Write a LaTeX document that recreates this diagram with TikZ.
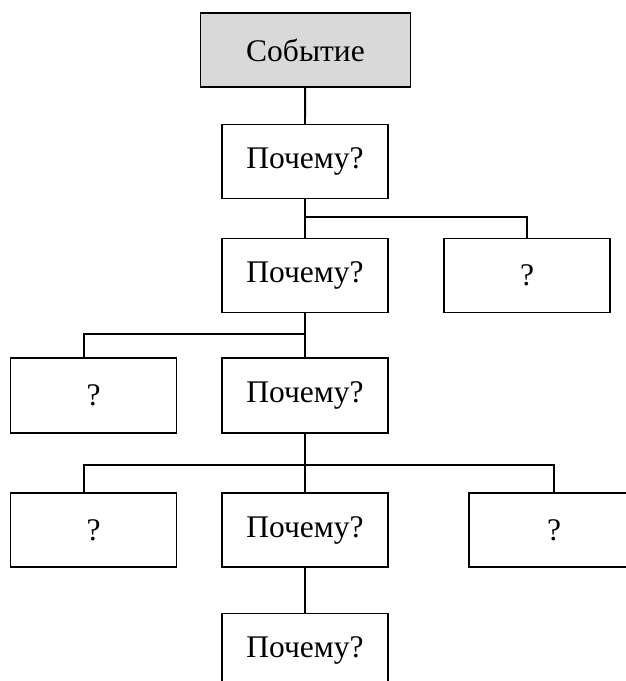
\documentclass[tikz,border=0pt]{standalone}
\usepackage{fontspec}
\setmainfont{Liberation Serif}
\definecolor{evgray}{HTML}{D9D9D9}
\begin{document}
\begin{tikzpicture}[x=1pt,y=1pt,
  box/.style={draw=black, line width=1.6pt, fill=white, minimum width=166pt, minimum height=74pt, inner sep=0pt, font=\fontsize{31.5}{36}\selectfont},
  link/.style={line width=1.6pt}]
\useasboundingbox (0,0) rectangle (625,-681);
\coordinate (b1) at (305,-217);
\coordinate (b2) at (305,-334);
\coordinate (b3) at (305,-465);
\coordinate (q2top) at (84,-358);
\coordinate (q3top) at (84,-493);
\draw[link] (305,-87) -- (305,-125);
\node[box, fill=evgray, minimum width=210pt] (E) at (305.5,-50) {Событие};
\node[box] (P1) at (305,-161.5) {Почему?};
\node[box] (P2) at (305,-275.5) {Почему?};
\node[box] (Q1) at (527,-275.5) {?};
\node[box, minimum height=75pt] (Q2) at (93.5,-395.5) {?};
\node[box, minimum height=75pt] (P3) at (305,-395.5) {Почему?};
\node[box] (Q3) at (93.5,-530) {?};
\node[box] (P4) at (305,-530) {Почему?};
\node[box, minimum width=170pt] (Q4) at (554,-530) {?};
\node[box] (P5) at (305,-650.5) {Почему?};
\draw[link] (E) -- (P1);
\draw[link] (P1) -- (P2);
\draw[link] (b1) -| (Q1.north);
\draw[link] (P2) -- (P3);
\draw[link] (b2) -| (q2top);
\draw[link] (P3) -- (P4);
\draw[link] (b3) -| (q3top);
\draw[link] (b3) -| (Q4.north);
\draw[link] (P4) -- (P5);
\end{tikzpicture}
\end{document}
